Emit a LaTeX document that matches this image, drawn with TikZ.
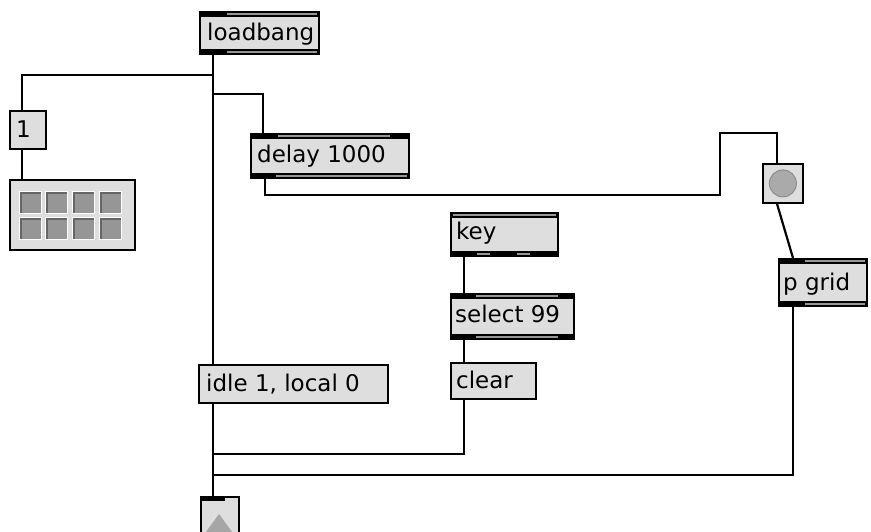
\documentclass[tikz,border=0pt]{standalone}
\usepackage{fontspec}
\setmainfont{DejaVu Sans}
\usetikzlibrary{calc}
\definecolor{boxgray}{RGB}{222,222,222}
\definecolor{stripe}{RGB}{150,150,150}
\definecolor{cellgray}{RGB}{150,150,150}
\definecolor{ballgray}{RGB}{170,170,170}
\tikzset{
  box/.style={draw=black, fill=boxgray, line width=1.8pt, inner sep=0pt, anchor=north west, rectangle},
  lbl/.style={anchor=base west, inner sep=0pt, font=\fontsize{23}{23}\selectfont},
  wire/.style={draw=black, line width=2.2pt},
  bar/.style={draw=stripe, line width=1.8pt},
}
\begin{document}
\begin{tikzpicture}[x=1pt,y=-1pt]
\clip (0,0) rectangle (871,532);
\fill[white] (0,0) rectangle (871,532);

% ---------- boxes ----------
\node[box, minimum width=119pt, minimum height=42pt] (lb) at (199,11) {};
\node[box, minimum width=158pt, minimum height=44pt] (dl) at (250,133) {};
\node[box, minimum width=107pt, minimum height=43pt] (key) at (450,212) {};
\node[box, minimum width=123pt, minimum height=45pt] (sel) at (450,293) {};
\node[box, minimum width=88pt, minimum height=47pt] (pg) at (778,258) {};
\node[box, minimum width=36pt, minimum height=38pt] (one) at (9,110) {};
\node[box, minimum width=125pt, minimum height=70pt] (mat) at (9,179) {};
\node[box, minimum width=189pt, minimum height=38pt] (idle) at (198,364) {};
\node[box, minimum width=85pt, minimum height=36pt] (clr) at (450,362) {};
\node[box, minimum width=40pt, minimum height=39pt] (btn) at (762,163) {};
\node[box, minimum width=38pt, minimum height=50pt] (bot) at (200,496) {};

% ---------- object bars ----------
% loadbang
\fill ($(lb.north west)$) rectangle ($(lb.north east)+(0,6)$);
\draw[bar] ($(lb.north west)+(28,3)$) -- ($(lb.north east)+(-3,3)$);
\fill ($(lb.south west)+(0,-6)$) rectangle ($(lb.south east)$);
\draw[bar] ($(lb.south west)+(28,-3)$) -- ($(lb.south east)+(-3,-3)$);
% delay
\fill ($(dl.north west)$) rectangle ($(dl.north east)+(0,6)$);
\draw[bar] ($(dl.north west)+(28,3)$) -- ($(dl.north east)+(-20,3)$);
\fill ($(dl.south west)+(0,-6)$) rectangle ($(dl.south east)$);
\draw[bar] ($(dl.south west)+(26,-3)$) -- ($(dl.south east)+(-3,-3)$);
% key
\fill ($(key.north west)$) rectangle ($(key.north east)+(0,6)$);
\draw[bar] ($(key.north west)+(3,3)$) -- ($(key.north east)+(-3,3)$);
\fill ($(key.south west)+(0,-6)$) rectangle ($(key.south east)$);
\draw[bar] ($(key.south west)+(27,-3)$) -- ($(key.south west)+(40,-3)$);
\draw[bar] ($(key.south west)+(67,-3)$) -- ($(key.south west)+(80,-3)$);
% select
\fill ($(sel.north west)$) rectangle ($(sel.north east)+(0,6)$);
\draw[bar] ($(sel.north west)+(26,3)$) -- ($(sel.north east)+(-17,3)$);
\fill ($(sel.south west)+(0,-6)$) rectangle ($(sel.south east)$);
\draw[bar] ($(sel.south west)+(26,-3)$) -- ($(sel.south east)+(-17,-3)$);
% p grid
\fill ($(pg.north west)$) rectangle ($(pg.north east)+(0,6)$);
\draw[bar] ($(pg.north west)+(27,3)$) -- ($(pg.north east)+(-3,3)$);
\fill ($(pg.south west)+(0,-6)$) rectangle ($(pg.south east)$);
\draw[bar] ($(pg.south west)+(27,-3)$) -- ($(pg.south east)+(-3,-3)$);
% bottom object inlet
\fill ($(bot.north west)$) rectangle ($(bot.north west)+(25,5)$);

% ---------- labels ----------
\node[lbl] (tlb) at ($(lb.north west)+(8,30)$) {loadbang};
\node[lbl] (tdl) at ($(dl.north west)+(7,30)$) {delay 1000};
\node[lbl] (tkey) at ($(key.north west)+(6,28)$) {key};
\node[lbl] (tsel) at ($(sel.north west)+(5,29)$) {select 99};
\node[lbl] (tpg) at ($(pg.north west)+(5,32)$) {p grid};
\node[lbl] (tone) at ($(one.north west)+(7,28)$) {1};
\node[lbl] (tidle) at ($(idle.north west)+(8,27)$) {idle 1, local 0};
\node[lbl] (tclr) at ($(clr.north west)+(6,26)$) {clear};

% ---------- matrix cells ----------
\foreach \cx in {11,37,64,91}{
  \foreach \cy in {13,39}{
    \fill[white] ($(mat.north west)+(\cx-1,\cy-1)$) rectangle ++(23,23);
    \fill[cellgray] ($(mat.north west)+(\cx,\cy)$) rectangle ++(21,21);
    \fill[black!60] ($(mat.north west)+(\cx,\cy)$) rectangle ++(21,2);
    \fill[black!60] ($(mat.north west)+(\cx,\cy)$) rectangle ++(2,21);
  }
}

% ---------- button ----------
\fill[ballgray, draw=black!45, line width=1pt] (btn.center) circle (13.5);

% ---------- bottom object triangle ----------
\fill[black!35] ($(bot.north west)+(3,40)$) -- ($(bot.north west)+(19,18)$) -- ($(bot.north west)+(35,40)$) -- cycle;

% ---------- connectors ----------
\coordinate (lbout) at ($(lb.south west)+(14,0)$);
\coordinate (bend) at (720,133);
\coordinate (botin) at ($(bot.north west)+(13,0)$);
\draw[wire] (lbout) -- ($(idle.north west)+(15,0)$);
\draw[wire] (lbout) -- ++(0,20) -| ($(one.north west)+(13,0)$);
\draw[wire] (lbout) -- ++(0,39) -| ($(dl.north west)+(13,0)$);
\draw[wire] ($(one.south west)+(13,0)$) -- ($(mat.north west)+(13,0)$);
\draw[wire] ($(dl.south west)+(15,0)$) -- ++(0,16) -| (bend) -| ($(btn.north west)+(15,0)$);
\draw[wire] ($(btn.south west)+(15,0)$) -- ($(pg.north west)+(15,0)$);
\draw[wire] ($(key.south west)+(14,0)$) -- ($(sel.north west)+(14,0)$);
\draw[wire] ($(sel.south west)+(14,0)$) -- ($(clr.north west)+(14,0)$);
\draw[wire] ($(idle.south west)+(15,0)$) -- (botin);
\draw[wire] ($(clr.south west)+(14,0)$) -- ++(0,54) -| (botin);
\draw[wire] ($(pg.south west)+(15,0)$) -- ++(0,168) -| (botin);
\end{tikzpicture}
\end{document}
